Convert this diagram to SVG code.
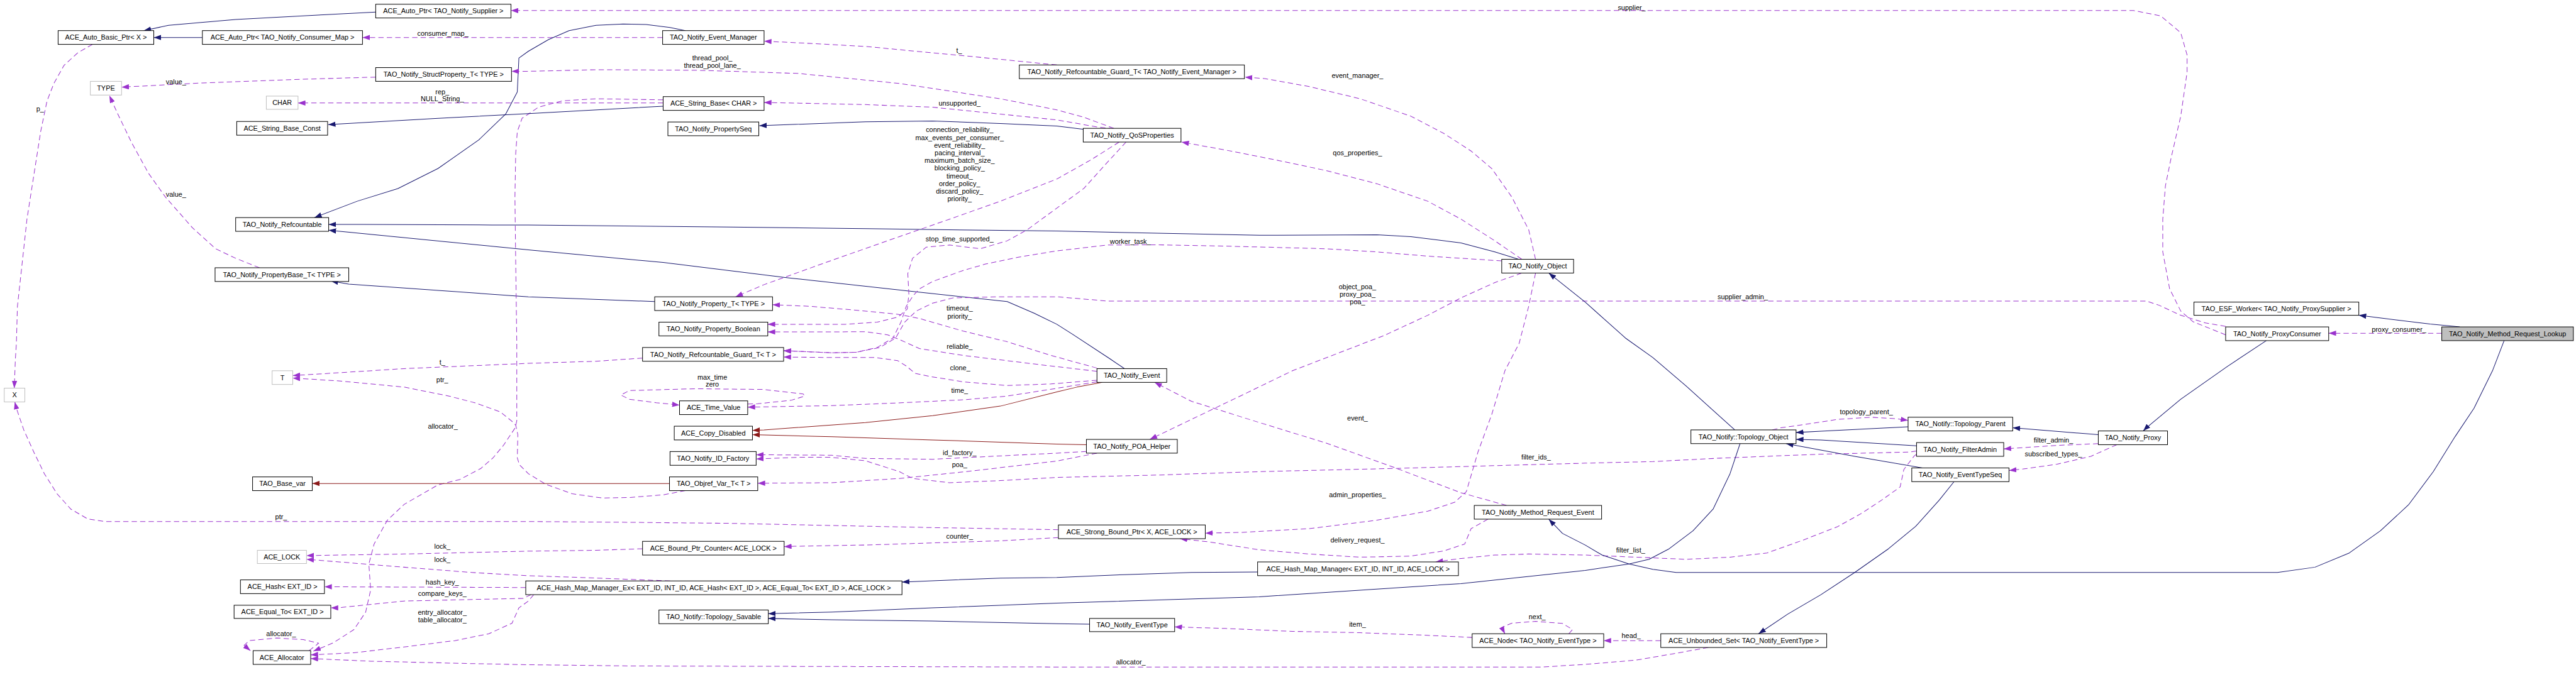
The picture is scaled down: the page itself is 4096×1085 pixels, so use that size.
<svg xmlns="http://www.w3.org/2000/svg" width="4096" height="1085" viewBox="0 0 4096 1085">
<style>
.n rect{fill:#fff;stroke:#000;stroke-width:1.2}
.n.g rect{stroke:#bfbfbf}
.n.h rect{fill:#bfbfbf}
text{font-family:"Liberation Sans",Arial,sans-serif;font-size:13px;fill:#000;text-anchor:middle}
.e path{fill:none;stroke-width:1.2;stroke-linejoin:round}
.e .i{stroke:#191970;marker-end:url(#aN)}
.e .u{stroke:#9a32cd;stroke-dasharray:10,6;marker-end:url(#aP)}
.e .p{stroke:#8b1a1a;marker-end:url(#aR)}
</style>
<defs>
<marker id="aN" viewBox="0 0 14 10" refX="14" refY="5" markerWidth="14" markerHeight="10" markerUnits="userSpaceOnUse" orient="auto"><path d="M0,0L14,5L0,10z" fill="#191970" stroke="none"/></marker>
<marker id="aP" viewBox="0 0 14 10" refX="14" refY="5" markerWidth="14" markerHeight="10" markerUnits="userSpaceOnUse" orient="auto"><path d="M0,0L14,5L0,10z" fill="#9a32cd" stroke="none"/></marker>
<marker id="aR" viewBox="0 0 14 10" refX="14" refY="5" markerWidth="14" markerHeight="10" markerUnits="userSpaceOnUse" orient="auto"><path d="M0,0L14,5L0,10z" fill="#8b1a1a" stroke="none"/></marker>
</defs>
<rect width="4096" height="1085" fill="#fff"/>
<g transform="scale(0.8402)">
<g id="edges" class="e">
<path class="i" d="M711,23L612,28L446,37L319,48L272,58"/>
<path class="i" d="M383,71L291,71"/>
<path class="u" d="M4212,634L4150,609L4127,589L4106,547L4093,477L4093,415L4098,352L4109,298L4127,220L4139,137L4139,104L4127,62L4089,30L4038,20L967,20"/>
<path class="u" d="M1254,71L686,71"/>
<path class="i" d="M1297,58L1268,52L1223,46.5L1179,45.5L1128,48L1077,58L1038,75L1000,97L982,110L979,174L957,216L906,265L829,319L753,357L676,381L595,412"/>
<path class="u" d="M2108,243L2051,222L2000,208L1893,187L1702,158L1510,139L1319,133L1128,132L1000,135L968,135"/>
<path class="u" d="M2000,123L1829,106L1638,88L1510,81L1446,78"/>
<path class="u" d="M2906,491L2893,435L2861,373L2823,319L2784,286L2733,253L2670,220L2574,187L2478,164L2395,149L2356,146"/>
<path class="u" d="M2880,491L2829,456L2765,415L2702,381L2606,348L2510,323L2415,303L2319,284L2236,269"/>
<path class="i" d="M2874,491L2829,477L2765,460L2670,448L2606,444.5L2383,445.5L2191,441.5L2000,437.5L1638,433L1383,430L1000,426L931,426L682,425L622,425"/>
<path class="i" d="M2128,698L2100,679L2030,633L2000,614L1957,593L1906,571L1720,551L1491,526L1255,497L1000,473L622,436"/>
<path class="i" d="M1239,571L1000,562L660,538L626,532"/>
<path class="u" d="M711,146L574,150L383,157L230,165"/>
<path class="u" d="M491,507L446,489L408,471L364,431L313,373L281,328L249,270L223,216L207,181"/>
<path class="u" d="M175,84L147,100L121,124L102,158L89,191L77,249L64,332L51,415L42,498L33,580L31,650L29,682L27,735"/>
<path class="u" d="M2003,1003L1765,999L1574,995L1383,991L1191,989L1000,987.5L198,987.5L166,982.5L134,964L108,935L84,897L64,856L45,814L31,773L28,761"/>
<path class="u" d="M1216,678L1128,684L1000,688L765,698L574,710L554,711"/>
<path class="u" d="M1297,929L1255,937L1191,942L1140,943L1083,935L1033,917L1000,897L983,880L979,867L980,823L976,805L968,797L947,780L900,763L850,750L765,733L638,721L554,716"/>
<path class="u" d="M1255,189L1128,187L1064,191L1019,203L1000,216L988,224L979,249L976,290L974.5,373L976,498L978,650L978,797L975,810L953,843L933,867L910,887L870,908L829,918L765,955L733,985L708,1030L698,1068L701.5,1117L692,1159L670,1192L631,1217L593,1233"/>
<path class="u" d="M1255,195L564,195"/>
<path class="i" d="M1255,201L1000,215L829,224L621,236"/>
<path class="u" d="M2108,244L2077,240.5L2000,227L1893,216L1765,203L1638,198L1446,194"/>
<path class="i" d="M2051,245L2000,238.5L1893,234L1765,229L1638,230.5L1437,238"/>
<path class="u" d="M2118,269L2064,303L2000,339L1893,381L1797,415L1702,448L1574,493L1446,539L1392,562"/>
<path class="u" d="M2131,269L2096,307L2051,357L2000,394L1944,435L1906,456L1855,471L1797,464L1753,468L1727,489L1718,518L1720,557L1717,585L1700,600L1660,610L1600,614L1453,614"/>
<path class="u" d="M2076,703L1989,693L1906,683L1823,673L1740,660L1707,645L1680,634L1638,628L1560,628.5L1453,628.5"/>
<path class="u" d="M2842,494L2702,485L2606,477L2510,471L2319,466L2191,463.5L2096,464L2000,475L1927,487L1865,500L1823,512L1765,533L1740,547L1728,560L1715,580L1705,610L1690,640L1660,658L1620,667L1574,668L1483,664"/>
<path class="u" d="M4212,618L4174,611.5L4127,597L4086,578L4062,570L2096,570L2000,562L1893,562L1804,564L1765,574L1734,589L1712,610L1695,640L1665,658L1620,667L1574,668L1483,664"/>
<path class="u" d="M2076,720L1989,727L1906,730L1823,723L1761,713L1732,707L1715,693L1699,683L1657,677L1574,677L1483,676"/>
<path class="u" d="M2076,697L1989,673L1906,647L1823,627L1740,603L1699,595L1616,587L1533,580L1462,577"/>
<path class="u" d="M2076,723L1989,737L1906,750L1823,757L1699,763L1574,768L1415,771"/>
<path class="u" d="M1415,765L1434,764.5L1497,758L1523,750L1520,746L1446,737.5L1319,736L1191,739.5L1175,748L1191,756L1242,762.5L1286,767"/>
<path class="p" d="M2086,724L2038,733L2000,742L1893,769L1765,787L1638,800L1446,814L1424,815"/>
<path class="p" d="M2056,842L2000,841L1765,833L1574,827L1424,823"/>
<path class="p" d="M1267,915.5L591,915.5"/>
<path class="u" d="M2056,855L2000,858L1765,869.6L1638,868L1574,862L1431,861"/>
<path class="u" d="M2076,858L2000,873L1829,893L1702,906L1574,914L1434,915"/>
<path class="u" d="M3627,854L3612,856L3446,860L3255,867.5L3128,874L3000,877L2638,887L2383,893L2191,899.5L2000,904L1893,910L1797,914L1727,906L1702,893L1638,872.5L1574,866L1510,866L1431,869"/>
<path class="u" d="M3627,860L3622,864L3603,889L3596,922L3561,947L3523,972L3478,997L3414,1022L3344,1047L3274,1055L3191,1059L3096,1055L3000,1051L2893,1049L2829,1051L2760,1058L2717,1064"/>
<path class="u" d="M2816,983L2784,1001L2772,1030L2733,1043L2670,1053L2574,1055L2478,1049L2383,1041L2287,1026L2233,1020"/>
<path class="u" d="M2906,517L2893,580L2875,650L2848,702L2823,785L2797,856L2775,931L2753,951L2702,968L2606,985L2478,1001L2351,1008L2281,1009.5"/>
<path class="u" d="M2851,957L2765,933L2638,885L2510,839L2383,800L2255,760L2185,724"/>
<path class="u" d="M2880,517L2829,535L2765,564L2702,597L2620,635L2542,665L2446,702L2351,748L2255,794L2176,832"/>
<path class="u" d="M2003,1018L1893,1024L1765,1028L1638,1032L1504,1034.4L1484,1035"/>
<path class="u" d="M1216,1039L1128,1042L1000,1043.6L765,1049L580,1052"/>
<path class="u" d="M1268,1100L1128,1094.6L1000,1090L893,1084L765,1074L580,1059"/>
<path class="u" d="M995,1112.5L614,1111"/>
<path class="u" d="M1005,1126L990,1133L765,1138L638,1151L626,1151"/>
<path class="u" d="M1010,1126L1000,1138L982,1151L969,1180L925,1200L861,1213L765,1225L670,1236L588,1240"/>
<path class="u" d="M3233,1226L3166,1238L3096,1250L3000,1258L2918,1263L2000,1263L1191,1261L1000,1258.6L893,1256.5L702,1252L588,1247"/>
<path class="u" d="M585,1232L603,1218L574,1211L523,1208L472,1213L462,1222L474,1232"/>
<path class="i" d="M2380,1083L2255,1084L2128,1088L2000,1093.4L1893,1094.6L1707,1102"/>
<path class="i" d="M3293,840L3274,897L3242,964L3204,1005L3159,1039L3121,1059L3083,1068L3000,1080L2765,1105L2383,1130L2000,1142L1765,1151L1574,1159L1454,1162"/>
<path class="i" d="M2062,1182L2000,1181L1765,1176L1574,1173.5L1454,1171"/>
<path class="u" d="M2786,1207L2702,1203L2574,1198L2446,1195.5L2319,1190L2223,1187"/>
<path class="u" d="M2969,1200L2976,1192L2957,1180.5L2906,1176.5L2861,1180L2842,1188L2848,1200"/>
<path class="u" d="M3143,1213L3035,1213"/>
<path class="i" d="M3698,912L3670,947L3625,997L3574,1039L3510,1084L3446,1126L3383,1163L3328,1200"/>
<path class="i" d="M3611,808L3446,816.5L3399,819"/>
<path class="i" d="M3627,844L3446,833L3399,832"/>
<path class="i" d="M3638,886L3510,864L3380,840"/>
<path class="i" d="M3283,814L3242,777L3191,731L3128,677L3076,640L3000,572L2931,517"/>
<path class="u" d="M3354,814L3370,810L3414,804L3478,794L3542,790L3590,793L3611,796"/>
<path class="i" d="M3971,823L3809,810"/>
<path class="i" d="M4289,645L4215,694L4127,756L4062,810L4056,816"/>
<path class="u" d="M3971,840L3893,843.4L3792,850"/>
<path class="u" d="M4006,842L3957,864L3893,879L3829,888L3802,891"/>
<path class="i" d="M4655,619L4599,613.6L4464,597"/>
<path class="u" d="M4621,631L4407,631"/>
<path class="i" d="M4739,645L4717,702L4682,773L4646,827L4605,893L4558,956L4505,1005L4446,1047L4381,1074L4310,1084L3172,1084L3128,1078L3083,1068L3032,1051L3000,1032L2957,1010L2931,983"/>
</g>
<g id="labels">
<text x="3088" y="18.5">supplier_</text>
<text x="838" y="67.5">consumer_map_</text>
<text x="1348" y="114.5">thread_pool_</text>
<text x="1348" y="128">thread_pool_lane_</text>
<text x="1815" y="100.5">t_</text>
<text x="333" y="159">value_</text>
<text x="837" y="178.5">rep_</text>
<text x="837" y="192">NULL_String_</text>
<text x="76" y="211">p_</text>
<text x="1816" y="200">unsupported_</text>
<text x="2569" y="147.5">event_manager_</text>
<text x="1816" y="250.5">connection_reliability_</text>
<text x="1816" y="265">max_events_per_consumer_</text>
<text x="1816" y="279.5">event_reliability_</text>
<text x="1816" y="294">pacing_interval_</text>
<text x="1816" y="308.5">maximum_batch_size_</text>
<text x="1816" y="323">blocking_policy_</text>
<text x="1816" y="337.5">timeout_</text>
<text x="1816" y="352">order_policy_</text>
<text x="1816" y="366.5">discard_policy_</text>
<text x="1816" y="381">priority_</text>
<text x="2569" y="294">qos_properties_</text>
<text x="333" y="372">value_</text>
<text x="1816" y="456.5">stop_time_supported_</text>
<text x="2139" y="461.5">worker_task_</text>
<text x="2569" y="547.5">object_poa_</text>
<text x="2569" y="562">proxy_poa_</text>
<text x="2569" y="576.5">poa_</text>
<text x="3298" y="567">supplier_admin_</text>
<text x="1816" y="588.5">timeout_</text>
<text x="1816" y="603.5">priority_</text>
<text x="4540" y="628.5">proxy_consumer_</text>
<text x="1816" y="660.5">reliable_</text>
<text x="837" y="690">t_</text>
<text x="1817" y="701.5">clone_</text>
<text x="1348" y="718.5">max_time</text>
<text x="1348" y="732.5">zero</text>
<text x="837" y="723.5">ptr_</text>
<text x="1816" y="743.5">time_</text>
<text x="3532" y="784.5">topology_parent_</text>
<text x="2569" y="796">event_</text>
<text x="838" y="812">allocator_</text>
<text x="3886" y="838">filter_admin_</text>
<text x="1816" y="862">id_factory_</text>
<text x="3886" y="863.5">subscribed_types_</text>
<text x="2907" y="870">filter_ids_</text>
<text x="1816" y="884.5">poa_</text>
<text x="2569" y="942">admin_properties_</text>
<text x="532" y="983.5">ptr_</text>
<text x="1816" y="1019.5">counter_</text>
<text x="2569" y="1027.5">delivery_request_</text>
<text x="837" y="1039">lock_</text>
<text x="837" y="1064">lock_</text>
<text x="3086" y="1046.5">filter_list_</text>
<text x="837" y="1106.5">hash_key_</text>
<text x="837" y="1128">compare_keys_</text>
<text x="837" y="1163.5">entry_allocator_</text>
<text x="837" y="1178">table_allocator_</text>
<text x="2909" y="1172.5">next_</text>
<text x="2569" y="1186.5">item_</text>
<text x="3087" y="1208">head_</text>
<text x="532" y="1204">allocator_</text>
<text x="2140" y="1257.5">allocator_</text>
</g>
<g id="n1" class="n"><rect x="711" y="8" width="256" height="26"/><text x="839" y="25.5">ACE_Auto_Ptr&lt; TAO_Notify_Supplier &gt;</text></g>
<g id="n2" class="n"><rect x="110" y="58" width="181" height="26"/><text x="200.5" y="75.5">ACE_Auto_Basic_Ptr&lt; X &gt;</text></g>
<g id="n3" class="n"><rect x="383" y="58" width="303" height="26"/><text x="534.5" y="75.5">ACE_Auto_Ptr&lt; TAO_Notify_Consumer_Map &gt;</text></g>
<g id="n4" class="n"><rect x="1254" y="58" width="192" height="26"/><text x="1350" y="75.5">TAO_Notify_Event_Manager</text></g>
<g id="n5" class="n"><rect x="1929" y="123" width="426" height="26"/><text x="2142" y="140.5">TAO_Notify_Refcountable_Guard_T&lt; TAO_Notify_Event_Manager &gt;</text></g>
<g id="n6" class="n"><rect x="711" y="128" width="257" height="26"/><text x="839.5" y="145.5">TAO_Notify_StructProperty_T&lt; TYPE &gt;</text></g>
<g id="n7" class="n g"><rect x="171" y="154" width="59" height="26"/><text x="200.5" y="171.5">TYPE</text></g>
<g id="n8" class="n g"><rect x="504" y="182" width="60" height="25"/><text x="534" y="199">CHAR</text></g>
<g id="n9" class="n"><rect x="1255" y="183" width="191" height="26"/><text x="1350.5" y="200.5">ACE_String_Base&lt; CHAR &gt;</text></g>
<g id="n10" class="n"><rect x="448" y="230" width="172" height="26"/><text x="534" y="247.5">ACE_String_Base_Const</text></g>
<g id="n11" class="n"><rect x="1264" y="231" width="172" height="26"/><text x="1350" y="248.5">TAO_Notify_PropertySeq</text></g>
<g id="n12" class="n"><rect x="2050" y="243" width="185" height="26"/><text x="2142.5" y="260.5">TAO_Notify_QoSProperties</text></g>
<g id="n13" class="n"><rect x="446" y="412" width="176" height="26"/><text x="534" y="429.5">TAO_Notify_Refcountable</text></g>
<g id="n14" class="n"><rect x="2842" y="491" width="136" height="26"/><text x="2910" y="508.5">TAO_Notify_Object</text></g>
<g id="n15" class="n"><rect x="407" y="507" width="253" height="26"/><text x="533.5" y="524.5">TAO_Notify_PropertyBase_T&lt; TYPE &gt;</text></g>
<g id="n16" class="n"><rect x="1239" y="562" width="223" height="26"/><text x="1350.5" y="579.5">TAO_Notify_Property_T&lt; TYPE &gt;</text></g>
<g id="n17" class="n"><rect x="1247" y="610" width="206" height="26"/><text x="1350" y="627.5">TAO_Notify_Property_Boolean</text></g>
<g id="n18" class="n"><rect x="1216" y="658" width="267" height="26"/><text x="1349.5" y="675.5">TAO_Notify_Refcountable_Guard_T&lt; T &gt;</text></g>
<g id="n19" class="n g"><rect x="515" y="702" width="39" height="26"/><text x="534.5" y="719.5">T</text></g>
<g id="n20" class="n"><rect x="2076" y="698" width="132" height="26"/><text x="2142" y="715.5">TAO_Notify_Event</text></g>
<g id="n21" class="n g"><rect x="8" y="735" width="39" height="26"/><text x="27.5" y="752.5">X</text></g>
<g id="n22" class="n"><rect x="1286" y="759" width="129" height="26"/><text x="1350.5" y="776.5">ACE_Time_Value</text></g>
<g id="n23" class="n"><rect x="1276" y="807" width="148" height="26"/><text x="1350" y="824.5">ACE_Copy_Disabled</text></g>
<g id="n24" class="n"><rect x="3611" y="790" width="198" height="26"/><text x="3710" y="807.5">TAO_Notify::Topology_Parent</text></g>
<g id="n25" class="n"><rect x="3200" y="814" width="199" height="26"/><text x="3299.5" y="831.5">TAO_Notify::Topology_Object</text></g>
<g id="n26" class="n"><rect x="3971" y="816" width="131" height="26"/><text x="4036.5" y="833.5">TAO_Notify_Proxy</text></g>
<g id="n27" class="n"><rect x="2056" y="832" width="172" height="26"/><text x="2142" y="849.5">TAO_Notify_POA_Helper</text></g>
<g id="n28" class="n"><rect x="3627" y="838" width="165" height="26"/><text x="3709.5" y="855.5">TAO_Notify_FilterAdmin</text></g>
<g id="n29" class="n"><rect x="1268" y="855" width="163" height="26"/><text x="1349.5" y="872.5">TAO_Notify_ID_Factory</text></g>
<g id="n30" class="n"><rect x="3618" y="886" width="184" height="26"/><text x="3710" y="903.5">TAO_Notify_EventTypeSeq</text></g>
<g id="n31" class="n"><rect x="478" y="903" width="113" height="26"/><text x="534.5" y="920.5">TAO_Base_var</text></g>
<g id="n32" class="n"><rect x="1267" y="903" width="167" height="26"/><text x="1350.5" y="920.5">TAO_Objref_Var_T&lt; T &gt;</text></g>
<g id="n33" class="n"><rect x="2790" y="957" width="241" height="26"/><text x="2910.5" y="974.5">TAO_Notify_Method_Request_Event</text></g>
<g id="n34" class="n"><rect x="2003" y="994" width="278" height="26"/><text x="2142" y="1011.5">ACE_Strong_Bound_Ptr&lt; X, ACE_LOCK &gt;</text></g>
<g id="n35" class="n"><rect x="1216" y="1025" width="268" height="26"/><text x="1350" y="1042.5">ACE_Bound_Ptr_Counter&lt; ACE_LOCK &gt;</text></g>
<g id="n36" class="n g"><rect x="487" y="1042" width="93" height="25"/><text x="533.5" y="1059">ACE_LOCK</text></g>
<g id="n37" class="n"><rect x="2380" y="1064" width="380" height="26"/><text x="2570" y="1081.5">ACE_Hash_Map_Manager&lt; EXT_ID, INT_ID, ACE_LOCK &gt;</text></g>
<g id="n38" class="n"><rect x="455" y="1098" width="159" height="26"/><text x="534.5" y="1115.5">ACE_Hash&lt; EXT_ID &gt;</text></g>
<g id="n39" class="n"><rect x="995" y="1100" width="712" height="26"/><text x="1351" y="1117.5">ACE_Hash_Map_Manager_Ex&lt; EXT_ID, INT_ID, ACE_Hash&lt; EXT_ID &gt;, ACE_Equal_To&lt; EXT_ID &gt;, ACE_LOCK &gt;</text></g>
<g id="n40" class="n"><rect x="443" y="1146" width="183" height="25"/><text x="534.5" y="1163">ACE_Equal_To&lt; EXT_ID &gt;</text></g>
<g id="n41" class="n"><rect x="1247" y="1155" width="207" height="26"/><text x="1350.5" y="1172.5">TAO_Notify::Topology_Savable</text></g>
<g id="n42" class="n"><rect x="2062" y="1171" width="161" height="25"/><text x="2142.5" y="1188">TAO_Notify_EventType</text></g>
<g id="n43" class="n"><rect x="2786" y="1200" width="249" height="26"/><text x="2910.5" y="1217.5">ACE_Node&lt; TAO_Notify_EventType &gt;</text></g>
<g id="n44" class="n"><rect x="3143" y="1200" width="314" height="26"/><text x="3300" y="1217.5">ACE_Unbounded_Set&lt; TAO_Notify_EventType &gt;</text></g>
<g id="n45" class="n"><rect x="479" y="1232" width="109" height="26"/><text x="533.5" y="1249.5">ACE_Allocator</text></g>
<g id="n46" class="n"><rect x="4152" y="572" width="312" height="25"/><text x="4308" y="589">TAO_ESF_Worker&lt; TAO_Notify_ProxySupplier &gt;</text></g>
<g id="n47" class="n"><rect x="4212" y="619" width="195" height="26"/><text x="4309.5" y="636.5">TAO_Notify_ProxyConsumer</text></g>
<g id="n48" class="n h"><rect x="4621" y="619" width="249" height="26"/><text x="4745.5" y="636.5">TAO_Notify_Method_Request_Lookup</text></g>
</g>
</svg>
